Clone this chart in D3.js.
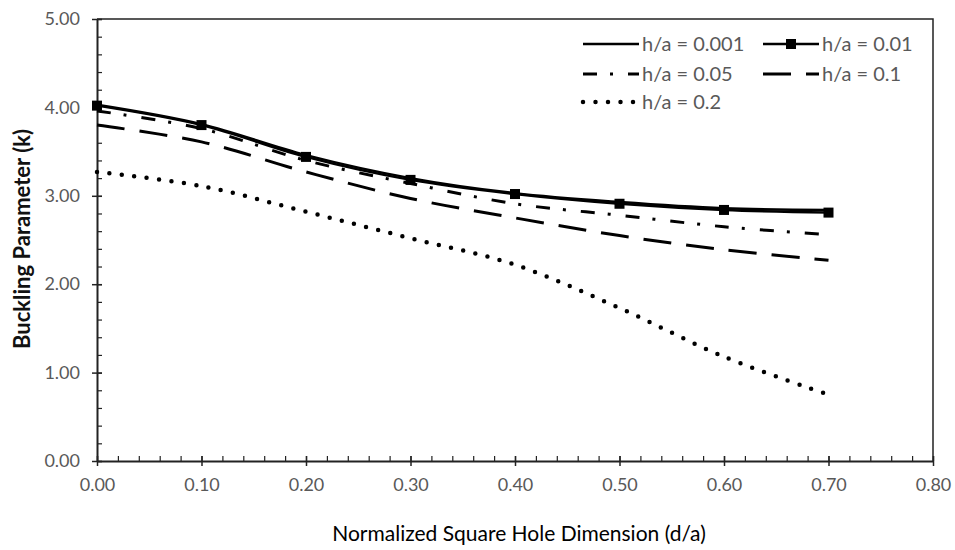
<!DOCTYPE html>
<html>
<head>
<meta charset="utf-8">
<script src="https://cdn.jsdelivr.net/npm/d3@7"></script>
<style>
body { margin: 0; background: #fff; }
text { font-family: Lato, "Open Sans", sans-serif; }
</style>
</head>
<body>
<div id="app"></div>
<script>
// data
var holeSize = [0, 0.1, 0.2, 0.3, 0.4, 0.5, 0.6, 0.7];
var kH0001 = [4.03, 3.81, 3.46, 3.20, 3.03, 2.93, 2.86, 2.84];
var kH001 = [4.02, 3.80, 3.44, 3.18, 3.02, 2.91, 2.84, 2.81];
var kH005 = [3.96, 3.76, 3.40, 3.14, 2.91, 2.78, 2.65, 2.56];
var kH01 = [3.80, 3.61, 3.27, 2.97, 2.75, 2.55, 2.39, 2.27];
var kH02 = [3.27, 3.11, 2.82, 2.52, 2.22, 1.73, 1.18, 0.75];
var seriesNames = ["h/a = 0.001", "h/a = 0.01", "h/a = 0.05", "h/a = 0.1", "h/a = 0.2"];
var xTicks = [0, 0.1, 0.2, 0.3, 0.4, 0.5, 0.6, 0.7, 0.8];
var yTicks = [0, 1, 2, 3, 4, 5];

var W = 955, H = 550;
var plotL = 97, plotR = 933, plotT = 19, plotB = 461;

// line looks, in the same order as seriesNames
var looks = [
    { width: 2.5, dash: null, cap: "butt", marker: false },
    { width: 2.5, dash: null, cap: "butt", marker: true },
    { width: 3, dash: "14,13,3,15", cap: "butt", marker: false },
    { width: 3, dash: "28,15", cap: "butt", marker: false },
    { width: 4.5, dash: "0,12.5", cap: "round", marker: false }
];

var runApp = function () {
    var svg = d3.select("#app")
        .append("svg")
        .attr("width", W)
        .attr("height", H);

    var x = d3.scaleLinear().domain([0, 0.8]).range([plotL, plotR]);
    var y = d3.scaleLinear().domain([0, 5]).range([plotB, plotT]);

    //FRAME (top and right)
    svg.append("path")
        .attr("d", "M" + plotL + "," + plotT + "H" + plotR + "V" + plotB)
        .style("fill", "none")
        .style("stroke", "#222")
        .style("stroke-width", 1.5);

    //MINOR TICKS
    svg.append("g")
        .attr("transform", "translate(0," + plotB + ")")
        .call(d3.axisBottom(x).ticks(40).tickSize(-5).tickFormat(""))
        .call(function (g) { g.select(".domain").remove(); })
        .selectAll("line").style("stroke", "#222").style("stroke-width", 1.2);
    svg.append("g")
        .attr("transform", "translate(" + plotL + ",0)")
        .call(d3.axisLeft(y).ticks(25).tickSize(-5).tickFormat(""))
        .call(function (g) { g.select(".domain").remove(); })
        .selectAll("line").style("stroke", "#222").style("stroke-width", 1.2);

    //X AXIS
    var xAxis = svg.append("g")
        .attr("transform", "translate(0," + plotB + ")")
        .call(d3.axisBottom(x).tickValues(xTicks).tickSizeInner(5).tickSizeOuter(0)
            .tickPadding(12).tickFormat(d3.format(".2f")));
    xAxis.selectAll(".tick line").attr("y1", -5).attr("y2", 5)
        .style("stroke", "#222").style("stroke-width", 1.5);
    xAxis.select(".domain").style("stroke", "#222").style("stroke-width", 2);
    xAxis.selectAll("text").style("font-size", "18px").style("fill", "#595959");

    //Y AXIS
    var yAxis = svg.append("g")
        .attr("transform", "translate(" + plotL + ",0)")
        .call(d3.axisLeft(y).tickValues(yTicks).tickSizeInner(5).tickSizeOuter(0)
            .tickPadding(12).tickFormat(d3.format(".2f")));
    yAxis.selectAll(".tick line").attr("x1", -5).attr("x2", 5)
        .style("stroke", "#222").style("stroke-width", 1.5);
    yAxis.select(".domain").style("stroke", "#222").style("stroke-width", 2);
    yAxis.selectAll("text").style("font-size", "18px").style("fill", "#595959");

    //AXIS TITLES
    svg.append("text")
        .attr("x", 519)
        .attr("y", 541)
        .attr("text-anchor", "middle")
        .style("font-size", "21px")
        .style("fill", "#000")
        .text("Normalized Square Hole Dimension (d/a)");
    svg.append("text")
        .attr("transform", "translate(30,239) rotate(-90)")
        .attr("text-anchor", "middle")
        .style("font-size", "22px")
        .style("font-weight", "bold")
        .style("fill", "#111")
        .text("Buckling Parameter (k)");

    //SERIES
    var allK = [kH0001, kH001, kH005, kH01, kH02];
    var line = d3.line()
        .x(function (d) { return x(d[0]); })
        .y(function (d) { return y(d[1]); })
        .curve(d3.curveCatmullRom.alpha(0.5));

    allK.forEach(function (vals, i) {
        var pts = holeSize.map(function (h, j) { return [h, vals[j]]; });
        var look = looks[i];
        svg.append("path")
            .attr("d", line(pts))
            .style("fill", "none")
            .style("stroke", "#000")
            .style("stroke-width", look.width)
            .style("stroke-linecap", look.cap)
            .style("stroke-dasharray", look.dash);
        if (look.marker) {
            svg.selectAll(".mk" + i)
                .data(pts)
                .enter()
                .append("rect")
                .attr("x", function (d) { return x(d[0]) - 5; })
                .attr("y", function (d) { return y(d[1]) - 5; })
                .attr("width", 10)
                .attr("height", 10)
                .style("fill", "#000");
        }
    });

    //LEGEND
    var legendPos = [[583, 44], [763, 44], [583, 74], [763, 74], [583, 102]];
    seriesNames.forEach(function (name, i) {
        var p = legendPos[i];
        var look = looks[i];
        svg.append("line")
            .attr("x1", p[0]).attr("x2", p[0] + 56)
            .attr("y1", p[1]).attr("y2", p[1])
            .style("stroke", "#000")
            .style("stroke-width", look.width)
            .style("stroke-linecap", look.cap)
            .style("stroke-dasharray", look.dash);
        if (look.marker) {
            svg.append("rect")
                .attr("x", p[0] + 23).attr("y", p[1] - 5)
                .attr("width", 10).attr("height", 10)
                .style("fill", "#000");
        }
        svg.append("text")
            .attr("x", p[0] + 59)
            .attr("y", p[1] + 7)
            .style("font-size", "20px")
            .style("fill", "#595959")
            .text(name);
    });
};

runApp();
</script>
</body>
</html>
